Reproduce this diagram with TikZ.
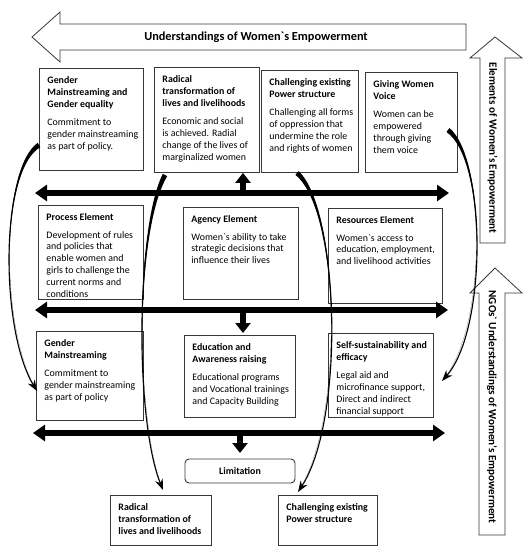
\documentclass[tikz,border=0pt]{standalone}
\usepackage{fontspec}
\usepackage{array}
\setmainfont{Carlito}[Ligatures=TeXOff]
\usetikzlibrary{arrows.meta,calc}
\definecolor{edge}{HTML}{383838}
\newcommand\bxc[4]{\begin{minipage}[t][\dimexpr#2pt-14pt\relax][t]{\dimexpr#1pt-16pt\relax}\fontsize{9.9}{11.8}\selectfont
  \begin{tabular}[t]{@{}>{\bfseries}l@{}}#3\end{tabular}\par\vspace{5.5pt}%
  \begin{tabular}[t]{@{}l@{}}#4\end{tabular}\end{minipage}}
\tikzset{
  box/.style={draw=edge, line width=0.9pt, inner xsep=8pt, inner ysep=7pt, anchor=north west, fill=white},
  blockarr/.style={draw=edge, line width=0.8pt, fill=white, line join=miter},
  bigarr/.style={line width=5.5pt, {Triangle[width=16pt,length=12pt]}-{Triangle[width=16pt,length=12pt]}},
  stub/.style={line width=5.5pt, -{Triangle[width=15pt,length=10pt]}},
  curv/.style={line width=1.1pt, -{Stealth[length=11pt,width=8pt]}},
  lbl/.style={font=\bfseries\fontsize{12.3}{14}\selectfont, inner sep=0pt},
  vlbl/.style={font=\bfseries\fontsize{11.1}{13}\selectfont, inner sep=0pt, rotate=-90}
}
\newcommand\taper[6]{%
  \fill ($(#1)+(#5,#6)$) .. controls (#2) and (#3) .. (#4) .. controls (#3) and (#2) .. ($(#1)-(#5,#6)$) -- cycle;
  \draw[curv] (#1) .. controls (#2) and (#3) .. (#4);}
\begin{document}
\begin{tikzpicture}[x=1pt,y=-1pt]
\useasboundingbox (0,0) rectangle (528,550);
% block arrows
\draw[blockarr] (466,24) -- (60,24) -- (60,12) -- (32,37) -- (60,62) -- (60,50) -- (466,50) -- cycle;
\node[lbl] (ttl) at (256,37) {Understandings of Women`s Empowerment};
\draw[blockarr] (480,243) -- (480,58) -- (470,58) -- (495,37) -- (522,58) -- (505,58) -- (505,243) -- cycle;
\node[vlbl] (elm) at (492.5,148) {Elements of Women’s Empowerment};
\draw[blockarr] (479,535) -- (479,293) -- (470,293) -- (495,268) -- (522,293) -- (505,293) -- (505,535) -- cycle;
\node[vlbl] (ngo) at (492,407) {NGOs` Understandings of Women’s Empowerment};
% top row
\node[box] (gm1) at (39,68) {\bxc{104}{102}{Gender\\Mainstreaming and\\Gender equality}{Commitment to\\gender mainstreaming\\as part of policy.}};
\node[box] (rad1) at (154,67) {\bxc{105}{105}{Radical\\transformation of\\lives and livelihoods}{Economic and social\\is achieved. Radial\\change of the lives of\\marginalized women}};
\node[box] (chal1) at (261,70) {\bxc{97}{102}{Challenging existing\\Power structure}{Challenging all forms\\of oppression that\\undermine the role\\and rights of women}};
\node[box] (voice) at (365,72) {\bxc{92}{100}{Giving Women\\Voice}{Women can be\\empowered\\through giving\\them voice}};
% middle row
\node[box] (proc) at (38,205) {\bxc{105}{94}{Process Element}{Development of rules\\and policies that\\enable women and\\girls to challenge the\\current norms and\\conditions}};
\node[box] (agen) at (183,207) {\bxc{115}{92}{Agency Element}{Women`s ability to take\\strategic decisions that\\influence their lives}};
\node[box] (reso) at (328,208) {\bxc{114}{95}{Resources Element}{Women`s access to\\education, employment,\\and livelihood activities}};
% bottom row
\node[box] (gm2) at (36,331) {\bxc{107}{89}{Gender\\Mainstreaming}{Commitment to\\gender mainstreaming\\as part of policy}};
\node[box] (edu) at (184,335) {\bxc{111}{82}{Education and\\Awareness raising}{Educational programs\\and Vocational trainings\\and Capacity Building}};
\node[box] (self) at (328,333) {\bxc{105}{84}{Self-sustainability and\\efficacy}{Legal aid and\\microfinance support,\\Direct and indirect\\financial support}};
\node[box, anchor=center, rounded corners=4pt, minimum width=110pt, minimum height=24pt, inner sep=0pt, font=\bfseries\fontsize{9.9}{11}\selectfont] (lim) at (240,471) {Limitation};
\node[box] (rad2) at (110,495) {\bxc{101}{50}{Radical\\transformation of\\lives and livelihoods}{}};
\node[box] (chal2) at (278,495) {\bxc{99}{50}{Challenging existing\\Power structure}{}};
% thick double arrows
\coordinate (h1l) at (35,193); \coordinate (h1r) at (449,193);
\coordinate (h2l) at (35,310); \coordinate (h2r) at (448,310);
\coordinate (h3l) at (33,433); \coordinate (h3r) at (445,433);
\draw[bigarr] (h1l) -- (h1r);
\draw[bigarr] (h2l) -- (h2r);
\draw[bigarr] (h3l) -- (h3r);
\coordinate (u1) at (243,193); \coordinate (u2) at (243,310); \coordinate (u3) at (240,433);
\draw[stub] (u1) -- (u1 |- rad1.south);
\draw[stub] (u2) -- ++(0,23);
\draw[stub] (u3) -- ++(0,20);
% curved connectors
\coordinate (s1) at (39,145); \coordinate (e1) at (37,391);
\coordinate (s2) at (448,130); \coordinate (e2) at (442,381);
\coordinate (s3) at (165,175); \coordinate (e3) at (163,490);
\coordinate (s4) at (297,173); \coordinate (e4) at (298,492);
\taper{s1}{0,170}{0,330}{e1}{1.4}{2.1}
\taper{s2}{487,160}{487,330}{e2}{-1.5}{2}
\taper{s3}{135,230}{135,420}{e3}{2.2}{1.2}
\taper{s4}{340,210}{345,420}{e4}{-1.6}{1.9}
\end{tikzpicture}
\end{document}
